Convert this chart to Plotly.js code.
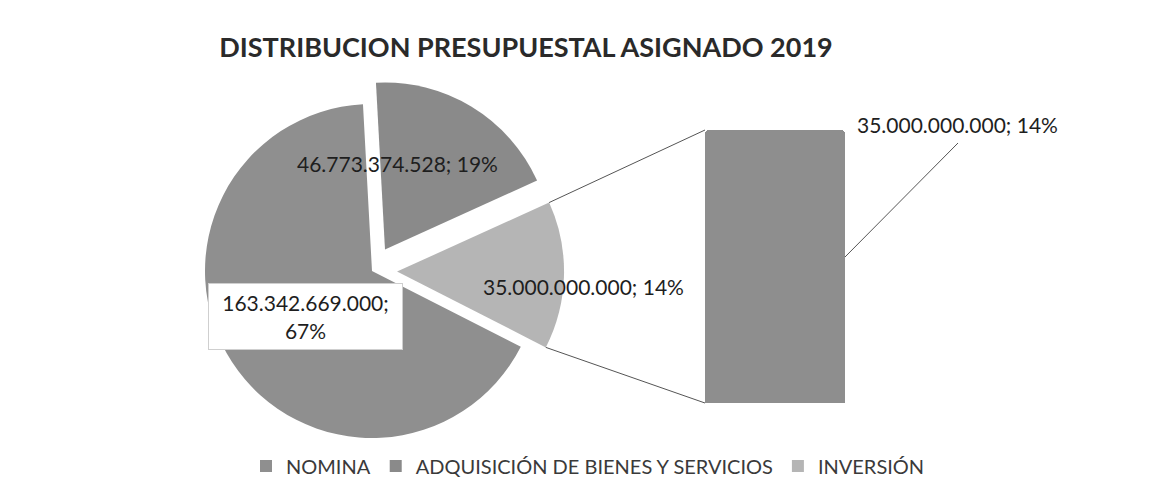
<!DOCTYPE html>
<html>
<head>
<meta charset="utf-8">
<script src="https://cdn.plot.ly/plotly-3.0.1.min.js"></script>
<style>html,body{margin:0;padding:0;background:#fff;}#chart{width:1159px;height:495px;}</style>
</head>
<body>
<div id="chart"></div>
<script>
const categories = ['NOMINA', 'ADQUISICIÓN DE BIENES Y SERVICIOS', 'INVERSIÓN'];
const values = [163342669000, 46773374528, 35000000000];
const barCategory = ['INVERSIÓN'];
const barValues = [35000000000];
const chartTitle = 'DISTRIBUCION PRESUPUESTAL ASIGNADO 2019';

const W = 1159, H = 495;
const px = x => x / W;
const py = y => 1 - y / H;
const fmt = v => String(v).replace(/\B(?=(\d{3})+(?!\d))/g, '.');
const total = values.reduce((a, b) => a + b, 0);
const pct = v => Math.round(v / total * 100) + '%';
const lab = i => fmt(values[i]) + '; ' + pct(values[i]);

const FONT = 'Lato, "Open Sans", sans-serif';
const colors = ['#8f8f8f', '#8a8a8a', '#b5b5b5'];

// pie geometry (pixels)
const r = 167, pulls = [0, 0.15, 0.15], maxPull = Math.max(...pulls), half = r * (1 + maxPull);
const cx = 372, cy = 271, rotation = 117;

// corners of the INVERSIÓN slice, for the connector lines to the bar
const deg = Math.PI / 180;
const a0 = rotation + 360 * (values[0] + values[1]) / total;
const a1 = rotation + 360;
const amid = (a0 + a1) / 2;
const ox = cx + pulls[2] * r * Math.sin(amid * deg), oy = cy - pulls[2] * r * Math.cos(amid * deg);
const topC = [ox + r * Math.sin(a0 * deg), oy - r * Math.cos(a0 * deg)];
const botC = [ox + r * Math.sin(a1 * deg), oy - r * Math.cos(a1 * deg)];

const pie = {
  type: 'pie',
  labels: categories,
  values: values,
  sort: false,
  direction: 'clockwise',
  rotation: rotation,
  pull: pulls,
  textinfo: 'none',
  hoverinfo: 'label+value+percent',
  marker: {colors: colors, line: {width: 0}},
  domain: {x: [px(cx - half), px(cx + half)], y: [py(cy + half), py(cy - half)]},
  showlegend: true
};

const bar = {
  type: 'bar',
  x: barCategory,
  y: barValues,
  marker: {color: '#8e8e8e', line: {width: 0}},
  showlegend: false,
  hoverinfo: 'y',
  xaxis: 'x', yaxis: 'y'
};

const textFont = {family: FONT, size: 21, color: '#1e1e1e'};
const lineStyle = {color: '#555', width: 1};

const layout = {
  width: W, height: H,
  margin: {l: 0, r: 0, t: 0, b: 0},
  paper_bgcolor: '#fff', plot_bgcolor: 'rgba(0,0,0,0)',
  font: {family: FONT, color: '#333'},
  title: {
    text: '<b>' + chartTitle + '</b>',
    x: px(526), xanchor: 'center', xref: 'paper',
    y: py(48), yanchor: 'middle', yref: 'paper',
    font: {family: FONT, size: 27, color: '#2a2a2a'}
  },
  bargap: 0,
  barcornerradius: 4,
  xaxis: {domain: [px(705), px(845)], range: [-0.5, 0.5], visible: false, fixedrange: true},
  yaxis: {domain: [py(403), py(130)], range: [0, 35000000000], visible: false, fixedrange: true},
  legend: {
    orientation: 'h', x: px(246), xanchor: 'left', y: py(466), yanchor: 'middle',
    font: {family: FONT, size: 20, color: '#3a3a3a'},
    traceorder: 'normal', itemclick: false
  },
  shapes: [
    {type: 'line', xref: 'paper', yref: 'paper', x0: px(topC[0]), y0: py(topC[1]), x1: px(705), y1: py(130), line: lineStyle},
    {type: 'line', xref: 'paper', yref: 'paper', x0: px(botC[0]), y0: py(botC[1]), x1: px(705), y1: py(403), line: lineStyle},
    {type: 'line', xref: 'paper', yref: 'paper', x0: px(845), y0: py(257), x1: px(958), y1: py(143), line: lineStyle}
  ],
  annotations: [
    {xref: 'paper', yref: 'paper', x: px(397), y: py(163), xanchor: 'center', yanchor: 'middle', showarrow: false, text: lab(1), font: textFont},
    {xref: 'paper', yref: 'paper', x: px(583), y: py(286), xanchor: 'center', yanchor: 'middle', showarrow: false, text: lab(2), font: textFont},
    {xref: 'paper', yref: 'paper', x: px(305.5), y: py(316.5), xanchor: 'center', yanchor: 'middle', showarrow: false,
     text: fmt(values[0]) + ';<br>' + pct(values[0]), font: textFont, bgcolor: '#fff', bordercolor: '#cfcfcf', borderwidth: 1,
     borderpad: 0, width: 193, height: 65, align: 'center'},
    {xref: 'paper', yref: 'paper', x: px(957), y: py(124), xanchor: 'center', yanchor: 'middle', showarrow: false, text: lab(2), font: textFont}
  ]
};

Plotly.newPlot('chart', [pie, bar], layout, {displayModeBar: false, staticPlot: true});
</script>
</body>
</html>
